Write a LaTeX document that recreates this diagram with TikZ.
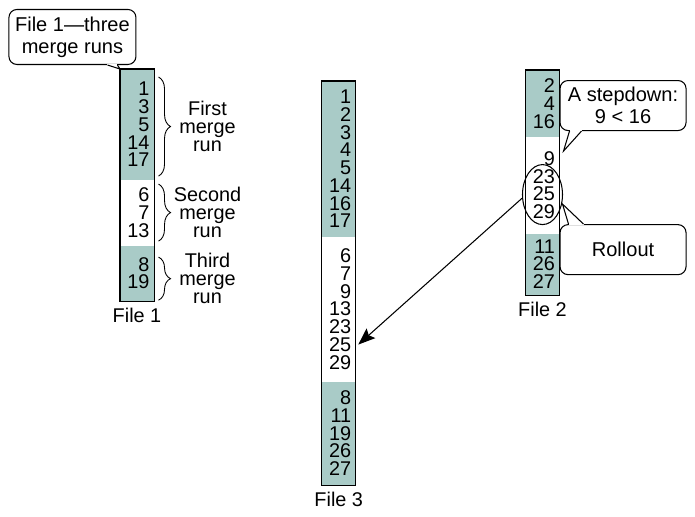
\documentclass[tikz,border=0pt]{standalone}
\usepackage{fontspec}
\setmainfont{Liberation Sans}
\usetikzlibrary{positioning, calc, shapes.geometric, decorations.pathreplacing, arrows.meta}
\definecolor{runteal}{RGB}{169,203,199}
\newcommand{\numfont}{\fontsize{11.3}{10.1}\selectfont}
\newcommand{\callfont}{\fontsize{11.4}{12.5}\selectfont}
\newcommand{\callptr}[3]{%
  \draw[white, line width=1.2pt] (#1) -- (#2);
  \draw (#1) -- (#3) -- (#2);}

\begin{document}
\begin{tikzpicture}[line width=0.6pt,
    sec/.style={inner xsep=0.08cm, inner ysep=0pt, text width=0.5cm, align=right, font=\numfont},
    tealsec/.style={sec, fill=runteal},
    callbox/.style={draw, rounded corners=0.16cm, fill=white, align=center, font=\callfont, inner sep=0pt},
    runbrace/.style={decorate, decoration={brace, amplitude=0.24cm}, line width=0.5pt},
    runlbl/.style={right=0.27cm, text width=1.4cm, align=center, inner sep=0pt, font=\numfont}]
    \useasboundingbox (0,0) rectangle (13.9,10.32);
    %
    % File 1
    \node [tealsec, minimum height=2.2cm, anchor=north] (f1a) at (2.74,8.94) {1\\3\\5\\14\\17};
    \node [sec, minimum height=1.28cm, below=0pt of f1a] (f1b) {6\\7\\13};
    \node [tealsec, minimum height=1.1cm, below=0pt of f1b] (f1c) {8\\19};
    \draw (f1a.north west) rectangle (f1c.south east);
    \node [below=0.13cm of f1c, inner sep=0pt, font=\numfont] (l1) {File 1};
    %
    % File 3
    \node [tealsec, minimum height=3.1cm, anchor=north] (f3a) at (6.775,8.7) {1\\2\\3\\4\\5\\14\\16\\17};
    \node [sec, minimum height=2.86cm, below=0pt of f3a] (f3b) {6\\7\\9\\13\\23\\25\\29};
    \node [tealsec, minimum height=2.06cm, below=0pt of f3b] (f3c) {8\\11\\19\\26\\27};
    \draw (f3a.north west) rectangle (f3c.south east);
    \node [below=0.13cm of f3c, inner sep=0pt, font=\numfont] (l3) {File 3};
    %
    % File 2
    \node [tealsec, minimum height=1.32cm, anchor=north] (f2a) at (10.85,8.92) {2\\4\\16};
    \node [sec, minimum height=1.9cm, below=0pt of f2a] (f2b) {9\\23\\25\\29};
    \node [tealsec, minimum height=1.22cm, below=0pt of f2b] (f2c) {11\\26\\27};
    \draw (f2a.north west) rectangle (f2c.south east);
    \node [below=0.13cm of f2c, inner sep=0pt, font=\numfont] (l2) {File 2};
    \node [draw, ellipse, minimum width=0.8cm, minimum height=1.2cm, inner sep=0pt] (roll) at ($(f2b.center)+(0,-0.19)$) {};
    %
    % merge runs of file 1
    \draw [runbrace] ($(f1a.north east)+(0.09,-0.16)$) -- ($(f1a.south east)+(0.09,0.08)$)
        node [runlbl, midway] (r1) {First\\merge\\run};
    \draw [runbrace] ($(f1b.north east)+(0.09,-0.08)$) -- ($(f1b.south east)+(0.09,0.08)$)
        node [runlbl, midway] (r2) {Second\\merge\\run};
    \draw [runbrace] ($(f1c.north east)+(0.09,-0.24)$) -- ($(f1c.south east)+(0.09,0.02)$)
        node [runlbl, midway] (r3) {Third\\merge\\run};
    %
    % callouts
    \node [callbox, minimum width=2.54cm, minimum height=1.1cm, anchor=south east] (c1)
        at ($(f1a.north west)+(0.33,0.08)$) {File 1—three\\merge runs};
    \coordinate (c1p) at ($(c1.south east)+(-0.58,0)$);
    \coordinate (c1q) at ($(c1.south east)+(-0.38,0)$);
    \callptr{c1p}{c1q}{f1a.north west}
    %
    \node [callbox, minimum width=2.52cm, minimum height=1.0cm, anchor=north west] (c2)
        at ($(f2a.north east)+(0,-0.2)$) {A stepdown:\\9 < 16};
    \coordinate (sd) at ($(f2b.north east)+(0.08,-0.28)$);
    \coordinate (c2p) at ($(c2.south west)+(0.2,0)$);
    \coordinate (c2q) at ($(c2.south west)+(0.44,0)$);
    \callptr{c2p}{c2q}{sd}
    %
    \node [callbox, minimum width=2.52cm, minimum height=1.0cm, anchor=north west] (c3)
        at ($(f2c.north east)+(0,0.18)$) {Rollout};
    \coordinate (ro) at ($(f2b.south east)+(0.06,0.58)$);
    \coordinate (c3p) at ($(c3.north west)+(0.18,0)$);
    \coordinate (c3q) at ($(c3.north west)+(0.48,0)$);
    \callptr{c3p}{c3q}{ro}
    %
    \coordinate (in25) at ($(f3b.east)+(0.05,-0.71)$);
    \draw [-{Stealth[length=0.34cm, width=0.26cm, inset=0.06cm]}] (roll.190) -- (in25);
\end{tikzpicture}
\end{document}
